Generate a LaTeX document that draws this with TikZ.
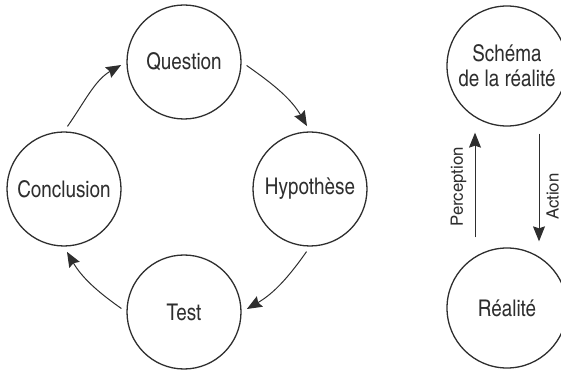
\documentclass[tikz,border=0pt]{standalone}
\usepackage{fontspec}
\setmainfont{texgyreheroscn-regular.otf}
\newfontfamily\etiqfont{texgyreheroscn-regular.otf}[FakeStretch=1.2]
\usetikzlibrary{arrows.meta}
\definecolor{trait}{gray}{0.18}
\begin{document}
\begin{tikzpicture}[x=0.5pt,y=0.5pt,
    etape/.style={circle,draw=trait,line width=0.65pt,minimum size=57pt,inner sep=0pt,
        text=trait,align=center,font=\fontsize{11.5}{12.5}\selectfont},
    grande/.style={etape,minimum size=60pt},
    fleche/.style={-{Stealth[length=7.5pt,width=6pt,inset=1pt]},line width=0.5pt,trait,
        shorten <=3pt,shorten >=3pt},
    etiq/.style={rotate=90,text=trait,inner sep=4pt,font=\etiqfont\fontsize{8.5}{10}\selectfont}]
\useasboundingbox (0,0) rectangle (561,369);
\clip (0,0) rectangle (561,369);
% cycle
\node[etape] (q) at (184,307) {Question};
\node[etape] (h) at (310,180) {Hypothèse};
\node[etape] (t) at (184,57) {Test};
\node[etape] (c) at (64,180) {Conclusion};
\foreach \a/\s/\o/\b/\e/\i in {q/0/-35/h/90/120, h/-90/-125/t/0/30, t/180/145/c/-90/-60, c/90/55/q/180/210}
    \draw[fleche] (\a.\s) to[out=\o,in=\i] (\b.\e);
% schema et realite
\node[grande] (schema) at (507,303) {Schéma\\de la réalité};
\node[grande] (reel) at (507,61) {Réalité};
\draw[fleche,shorten <=5pt] ([xshift=-16pt]reel.north) -- ([xshift=-16pt]schema.south)
    node[etiq,midway,anchor=south] {Perception};
\draw[fleche,shorten <=3.5pt] ([xshift=16pt]schema.south) -- ([xshift=16pt]reel.north)
    node[etiq,pos=0.58,anchor=north,inner sep=3.5pt] {Action};
\end{tikzpicture}
\end{document}
